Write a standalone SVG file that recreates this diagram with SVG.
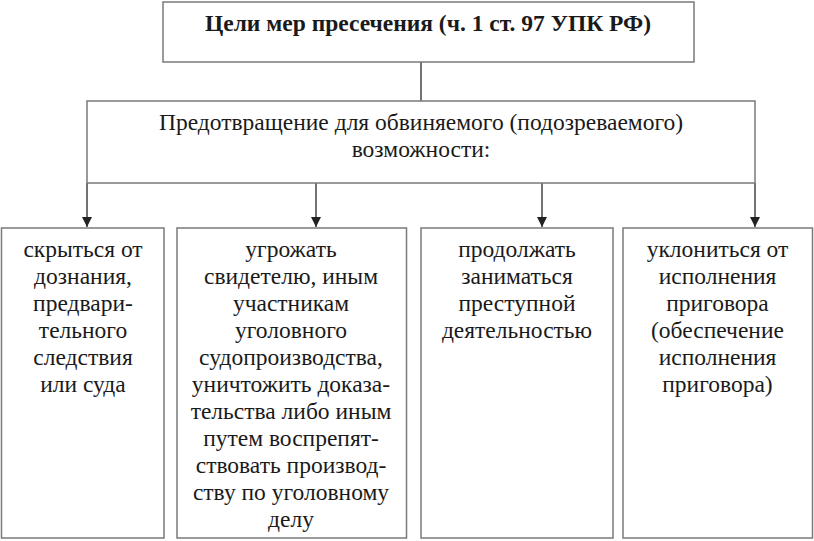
<svg xmlns="http://www.w3.org/2000/svg" width="814" height="541" viewBox="0 0 814 541">
<style>
.box{fill:#fff;stroke:#7a7a7a;stroke-width:1.5}
.ln{stroke:#444;stroke-width:1.5;fill:none}
text{font-family:'Liberation Serif','DejaVu Serif',serif;fill:#1a1a1a;text-anchor:middle}
.t{font-size:23.5px}
.title{font-size:23.5px;font-weight:bold}
</style>
<defs>
<marker id="ah" markerWidth="10" markerHeight="10" refX="10" refY="5" orient="auto" markerUnits="userSpaceOnUse" viewBox="0 0 10 10">
<path d="M0,0 L10,5 L0,10 Z" fill="#222"/>
</marker>
</defs>
<rect width="814" height="541" fill="#fff"/>
<g id="connectors">
<line class="ln" x1="421" y1="62" x2="421" y2="101"/>
<line class="ln" x1="87" y1="183" x2="87" y2="227" marker-end="url(#ah)"/>
<line class="ln" x1="316" y1="183" x2="316" y2="227" marker-end="url(#ah)"/>
<line class="ln" x1="542" y1="183" x2="542" y2="227" marker-end="url(#ah)"/>
<line class="ln" x1="755" y1="183" x2="755" y2="227" marker-end="url(#ah)"/>
</g>
<g id="top">
<rect class="box" x="163" y="2" width="531" height="60"/>
<text class="title" x="428" y="31">Цели мер пресечения (ч. 1 ст. 97 УПК РФ)</text>
</g>
<g id="middle">
<rect class="box" x="87" y="101" width="668" height="82"/>
<text class="t" x="421" y="130">Предотвращение для обвиняемого (подозреваемого)</text>
<text class="t" x="421" y="157">возможности:</text>
</g>
<g id="b1">
<rect class="box" x="1.5" y="228" width="162.5" height="310"/>
<text class="t" x="83" y="257">скрыться от</text>
<text class="t" x="83" y="284">дознания,</text>
<text class="t" x="83" y="311">предвари-</text>
<text class="t" x="83" y="338">тельного</text>
<text class="t" x="83" y="365">следствия</text>
<text class="t" x="83" y="392">или суда</text>
</g>
<g id="b2">
<rect class="box" x="177" y="228" width="229.5" height="310"/>
<text class="t" x="291" y="257">угрожать</text>
<text class="t" x="291" y="284">свидетелю, иным</text>
<text class="t" x="291" y="311">участникам</text>
<text class="t" x="291" y="338">уголовного</text>
<text class="t" x="291" y="365">судопроизводства,</text>
<text class="t" x="291" y="392">уничтожить доказа-</text>
<text class="t" x="291" y="419">тельства либо иным</text>
<text class="t" x="291" y="446">путем воспрепят-</text>
<text class="t" x="291" y="473">ствовать производ-</text>
<text class="t" x="291" y="500">ству по уголовному</text>
<text class="t" x="291" y="527">делу</text>
</g>
<g id="b3">
<rect class="box" x="421" y="228" width="192" height="310"/>
<text class="t" x="517" y="257">продолжать</text>
<text class="t" x="517" y="284">заниматься</text>
<text class="t" x="517" y="311">преступной</text>
<text class="t" x="517" y="338">деятельностью</text>
</g>
<g id="b4">
<rect class="box" x="623" y="228" width="189.5" height="310"/>
<text class="t" x="717.5" y="257">уклониться от</text>
<text class="t" x="717.5" y="284">исполнения</text>
<text class="t" x="717.5" y="311">приговора</text>
<text class="t" x="717.5" y="338">(обеспечение</text>
<text class="t" x="717.5" y="365">исполнения</text>
<text class="t" x="717.5" y="392">приговора)</text>
</g>
</svg>
